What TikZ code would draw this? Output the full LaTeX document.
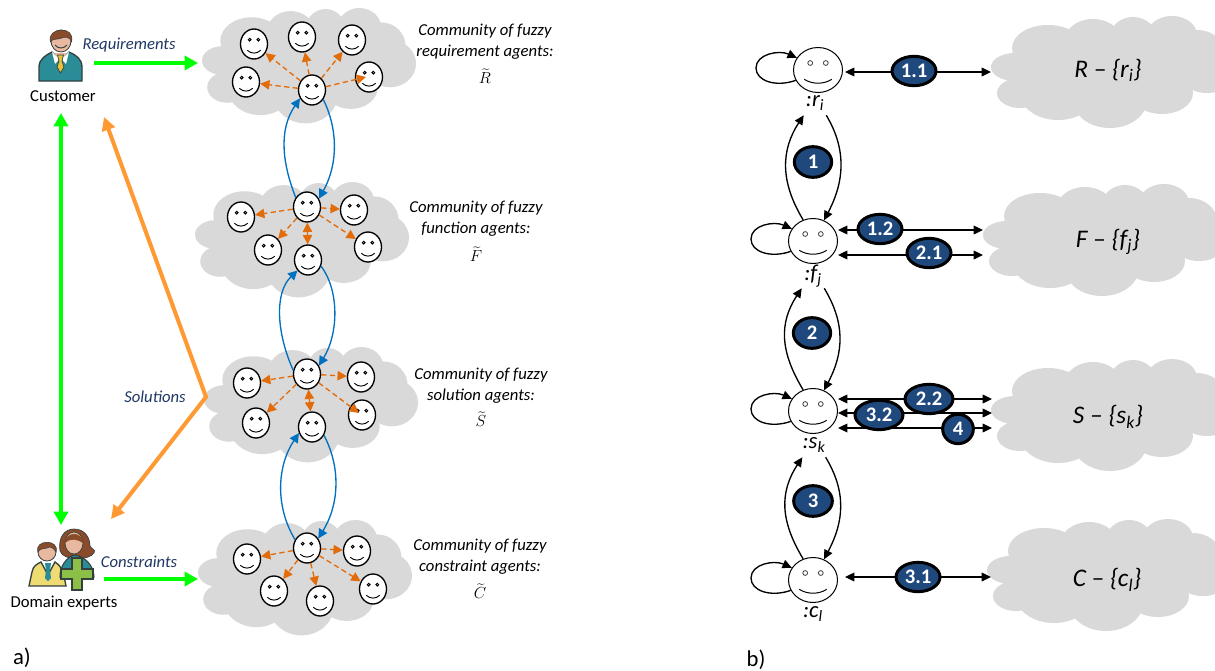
\documentclass[tikz,border=0pt]{standalone}
\usepackage{fontspec}
\setmainfont{Carlito}
\usetikzlibrary{arrows.meta,shapes.geometric,calc}
\definecolor{cloudgrey}{HTML}{D9D9D9}
\definecolor{pillblue}{HTML}{1F497D}
\definecolor{labelblue}{HTML}{1F3864}
\definecolor{dashorange}{HTML}{E36C0A}
\definecolor{flowblue}{HTML}{0070C0}
\definecolor{flowgreen}{HTML}{00FF00}
\definecolor{floworange}{HTML}{FF9933}
\definecolor{teal1}{HTML}{2A8C96}
\definecolor{hair}{HTML}{8A4B2A}
\definecolor{skin}{HTML}{E8B9A0}
\definecolor{suit}{HTML}{EEDB72}
\definecolor{tie}{HTML}{E3C33A}
\definecolor{plusgreen}{HTML}{8CBF45}
\definecolor{iconline}{HTML}{33403F}
\newcommand\puffcloud[5]{%
  \begin{scope}[shift={(#2,#3)},xscale=#4,yscale=#5]
  \fill[cloudgrey] (24,51) ellipse[x radius=24,y radius=14]
    (29,77) ellipse[x radius=23,y radius=15]
    (57,32) ellipse[x radius=36,y radius=23]
    (102,24) ellipse[x radius=28,y radius=21]
    (142,21) ellipse[x radius=23,y radius=20]
    (181,19) ellipse[x radius=25,y radius=19]
    (206,37) ellipse[x radius=28,y radius=23]
    (216,54) ellipse[x radius=30,y radius=23]
    (171,77) ellipse[x radius=31,y radius=21]
    (119,84) ellipse[x radius=37,y radius=28]
    (67,77) ellipse[x radius=38,y radius=27]
    (119,51) ellipse[x radius=87,y radius=33];
  \end{scope}}
\newcommand\smallfacepic{\begin{scope}[shift={(path picture bounding box.center)},x=.75pt,y=-.75pt]
  \draw[line width=.7pt] (-4.3,-4.3) circle[radius=1.4] (4.3,-4.3) circle[radius=1.4];
  \draw[line width=.7pt] (-6.7,6.3) .. controls (-3,10) and (3,10) .. (6.7,6.3);
  \end{scope}}
\newcommand\bigfacepic{\begin{scope}[shift={(path picture bounding box.center)},x=.75pt,y=-.75pt]
  \draw[line width=.6pt,draw=black!75] (-7.8,-7) circle[radius=2.4] (7.8,-7) circle[radius=2.4];
  \draw[line width=.75pt] (-13.7,9.3) .. controls (-6,14.5) and (6,14.5) .. (13.7,9.3);
  \end{scope}}
\tikzset{
  smallface/.style={ellipse,draw=black,line width=1pt,fill=white,minimum width=20.25pt,minimum height=22.5pt,inner sep=0pt,path picture={\smallfacepic}},
  bigface/.style={ellipse,draw=black,line width=.75pt,fill=white,minimum width=36.75pt,minimum height=33.75pt,inner sep=0pt,path picture={\bigfacepic}},
  dasharrow/.style={draw=dashorange,line width=1pt,dash pattern=on 4pt off 2.5pt,-{Triangle[length=7pt,width=7pt]}},
  dashboth/.style={draw=dashorange,line width=1pt,dash pattern=on 4pt off 2.5pt,{Triangle[length=7pt,width=7pt]}-{Triangle[length=7pt,width=7pt]}},
  bluearrow/.style={draw=flowblue,line width=1pt,-{Triangle[length=7pt,width=7pt]}},
  blackarrow/.style={draw=black,line width=1pt,-{Triangle[length=7pt,width=6.5pt]}},
  blackboth/.style={draw=black,line width=1pt,{Triangle[length=7pt,width=6.5pt]}-{Triangle[length=7pt,width=6.5pt]}},
  greenarrow/.style={draw=flowgreen,line width=3.5pt,-{Triangle[length=10pt,width=10.5pt]}},
  greenboth/.style={draw=flowgreen,line width=3.5pt,{Triangle[length=10pt,width=10.5pt]}-{Triangle[length=10pt,width=10.5pt]}},
  orangearrow/.style={draw=floworange,line width=3pt,-{Triangle[length=10pt,width=10pt]}},
  pill/.style={ellipse,draw=black,line width=2.25pt,fill=pillblue,text=white,font=\fontsize{15.5}{15.5}\selectfont\bfseries,inner sep=0pt},
  flowlabel/.style={text=labelblue,font=\fontsize{12.5}{14}\selectfont\itshape,inner sep=0pt},
  community/.style={align=center,font=\fontsize{12.5}{16}\selectfont\itshape,inner sep=0pt},
  tildelabel/.style={font=\fontsize{13}{14}\selectfont,inner sep=0pt},
  actor/.style={font=\fontsize{12.5}{14}\selectfont,inner sep=0pt},
  instance/.style={font=\fontsize{17}{17}\selectfont\itshape,inner sep=0pt,minimum width=16.5pt,minimum height=18pt},
  setlabel/.style={font=\fontsize{19}{19}\selectfont\itshape,inner sep=0pt},
  partlabel/.style={font=\fontsize{17}{17}\selectfont,inner sep=0pt},
}
\begin{document}
\begin{tikzpicture}[x=.75pt,y=-.75pt]
\clip (0,0) rectangle (1215,671);
\fill[white] (0,0) rectangle (1215,671);
% clouds, panel a
\puffcloud{a}{202}{8}{.87}{1.03}
\puffcloud{b}{195}{182}{.87}{1.03}
\puffcloud{c}{204}{347}{.87}{1.03}
\puffcloud{d}{198}{520}{.87}{1.03}
% clouds, panel b
\puffcloud{e}{991}{16}{1}{1}
\puffcloud{f}{983}{184}{1}{1}
\puffcloud{g}{991}{359}{1}{1}
\puffcloud{h}{987}{519}{1}{1}
% customer icon
\fill[skin] (50,53) rectangle (71,62);
\filldraw[fill=teal1,draw=iconline,line width=1pt] (39,81) -- (39,67) .. controls (39,59) and (46,55) .. (52,52) -- (60.5,62) -- (69,52) .. controls (76,55) and (82,59) .. (82,67) -- (82,81) -- cycle;
\fill[white] (52,52) -- (60.5,60) -- (69,52) -- (66,64) -- (60.5,58) -- (55,64) -- cycle;
\filldraw[fill=tie,draw=iconline,line width=.5pt] (57.5,55) -- (63.5,55) -- (62,61) -- (64,67) -- (60.5,73) -- (57,67) -- (59,61) -- cycle;
\filldraw[fill=skin,draw=iconline,line width=.6pt] (61,41) ellipse[x radius=10,y radius=11];
\filldraw[fill=hair,draw=iconline,line width=.4pt] (50.5,42) .. controls (46,27) and (76,25) .. (71.5,42) .. controls (70,37) and (66,36) .. (60,38.5) .. controls (56,40) and (53,38) .. (50.5,42) -- cycle;
\draw[iconline,line width=.7pt] (55,45) .. controls (58,49) and (64,49) .. (67,45);
% domain experts icon
\filldraw[fill=suit,draw=iconline,line width=1pt] (29,586) -- (32,572) .. controls (33,566) and (37,564) .. (41,562) -- (48,575) -- (55,562) .. controls (60,565) and (63,570) .. (64,576) -- (66,586) -- cycle;
\fill[teal1] (45,563) -- (51,563) -- (50,570) -- (51,578) -- (48,581) -- (45,578) -- (46,570) -- cycle;
\filldraw[fill=skin,draw=iconline,line width=.6pt] (47,552) circle[radius=9];
\filldraw[fill=hair,draw=iconline,line width=.4pt] (38,552) .. controls (34,539) and (60,539) .. (56,552) .. controls (53,547) and (50,546) .. (47,548) .. controls (44,549) and (40,548) .. (38,552) -- cycle;
\filldraw[fill=hair,draw=iconline,line width=.5pt] (60,551) .. controls (58,538) and (64,529) .. (74,529) .. controls (85,529) and (90,538) .. (90,546) .. controls (92,550) and (96,549) .. (94,553) .. controls (90,560) and (64,562) .. (60,551) -- cycle;
\filldraw[fill=teal1,draw=iconline,line width=.8pt] (60,577) .. controls (60,566) and (66,558) .. (74,555) .. controls (85,556) and (94,566) .. (94,577) -- cycle;
\filldraw[fill=skin,draw=iconline,line width=.5pt] (74,543) ellipse[x radius=9,y radius=11];
\path[fill=hair] (65,543) .. controls (65,531) and (83,531) .. (83,543) .. controls (78,540) and (72,537) .. (65,543) -- cycle;
\filldraw[fill=plusgreen,draw=iconline,line width=.8pt] (72,558) -- (82,558) -- (82,569) -- (93,569) -- (93,579) -- (82,579) -- (82,590) -- (72,590) -- (72,579) -- (61,579) -- (61,569) -- (72,569) -- cycle;
% actors and flow labels
\node[actor] (customer) at (63,96) {Customer};
\node[actor] (experts) at (64,603) {Domain experts};
\node[flowlabel] (lreq) at (129,45) {Requirements};
\node[flowlabel] (lsol) at (155,397) {Solutions};
\node[flowlabel] (lcon) at (139,562) {Constraints};
\node[partlabel] (parta) at (22,658) {a)};
\node[partlabel] (partb) at (756,660) {b)};
% free ends of the panel a flows
\coordinate (custout) at (94,63);
\coordinate (cloudain) at (198,63);
\coordinate (expout) at (104,579);
\coordinate (clouddin) at (198,579);
\coordinate (custdown) at (61,113);
\coordinate (expup) at (61,525);
\coordinate (bend) at (206,397);
\coordinate (custtip) at (104,117);
\coordinate (exptip) at (111,519);
\draw[greenarrow] (custout) -- (cloudain);
\draw[greenarrow] (expout) -- (clouddin);
\draw[greenboth] (custdown) -- (expup);
\draw[orangearrow,line cap=round] (bend) -- (custtip);
\draw[orangearrow,line cap=round] (bend) -- (exptip);
% agents, requirement community
\node[smallface] (r0) at (312,90) {};
\node[smallface] (r1) at (254,44) {};
\node[smallface] (r2) at (302,37) {};
\node[smallface] (r3) at (352,40) {};
\node[smallface] (r4) at (246,82) {};
\node[smallface] (r5) at (369,77) {};
% agents, function community
\node[smallface] (f0) at (307,207) {};
\node[smallface] (f1) at (241,217) {};
\node[smallface] (f2) at (268,250) {};
\node[smallface] (f3) at (308,260) {};
\node[smallface] (f4) at (354,210) {};
\node[smallface] (f5) at (368,247) {};
% agents, solution community
\node[smallface] (s0) at (307,374) {};
\node[smallface] (s1) at (247,383) {};
\node[smallface] (s2) at (361,377) {};
\node[smallface] (s3) at (256,423) {};
\node[smallface] (s4) at (312,427) {};
\node[smallface] (s5) at (362,415) {};
% agents, constraint community
\node[smallface] (c0) at (307,548) {};
\node[smallface] (c1) at (247,559) {};
\node[smallface] (c2) at (274,591) {};
\node[smallface] (c3) at (320,601) {};
\node[smallface] (c4) at (357,551) {};
\node[smallface] (c5) at (373,589) {};
% dashed
\foreach \t in {r1,r2,r3,r4} \draw[dasharrow] (r0) -- (\t);
\draw[dasharrow] (r0) -- ($(r5)+(-3,0)$);
\foreach \t in {f1,f2,f4,f5} \draw[dasharrow] (f0) -- (\t);
\draw[dashboth] (f0) -- (f3);
\foreach \t in {s1,s2,s3} \draw[dasharrow] (s0) -- (\t);
\draw[dasharrow] (s0) -- ($(s5)+(-3,-2)$);
\draw[dashboth] (s0) -- (s4);
\foreach \t in {c1,c2,c3,c4} \draw[dasharrow] (c0) -- (\t);
\draw[dasharrow] (c0) -- (c5);
% blue loops
\draw[bluearrow] (f0.140) .. controls +(-13,-33) and +(-22,32) .. (r0.215);
\draw[bluearrow] (r0.-40) .. controls +(14,28) and +(20,-36) .. (f0.35);
\draw[bluearrow] (s0.165) .. controls +(-17,-38) and +(-23,22) .. (f3.225);
\draw[bluearrow] (f3.-25) .. controls +(18,24) and +(20,-33) .. (s0.35);
\draw[bluearrow] (c0.145) .. controls +(-20,-33) and +(-22,33) .. (s4.205);
\draw[bluearrow] (s4.-35) .. controls +(16,30) and +(22,-36) .. (c0.40);
% community labels
\node[community] (tr) at (485,42) {Community of fuzzy\\requirement agents:};
\node[tildelabel] (tR) at (485,76) {$\widetilde{R}$};
\node[community] (tf) at (476,219) {Community of fuzzy\\function agents:};
\node[tildelabel] (tF) at (476,254) {$\widetilde{F}$};
\node[community] (ts) at (481,386) {Community of fuzzy\\solution agents:};
\node[tildelabel] (tS) at (481,419) {$\widetilde{S}$};
\node[community] (tc) at (480,557) {Community of fuzzy\\constraint agents:};
\node[tildelabel] (tC) at (480,591) {$\widetilde{C}$};
% panel b agents
\node[bigface] (ri) at (818,70) {};
\node[bigface] (fj) at (813,241) {};
\node[bigface] (sk) at (813,411) {};
\node[bigface] (cl) at (813,580) {};
\node[instance] (lr) at (815,103) {:r\textsubscript{i}};
\node[instance] (lf) at (813,276) {:f\textsubscript{j}};
\node[instance] (ls) at (814,445) {:s\textsubscript{k}};
\node[instance] (lc) at (813,614) {:c\textsubscript{l}};
% self loops
\foreach \a in {ri,fj,sk,cl}
  \draw[blackarrow] (\a.205) .. controls +(-20,7) and +(0,13) .. ($(\a)+(-62,-2)$) .. controls +(0,-14) and +(-18,-8) .. (\a.150);
% vertical loops
\draw[blackarrow] (fj.115) .. controls +(-23,-38) and +(-23,35) .. (lr.south west);
\draw[blackarrow] (lr.south east) .. controls +(21,35) and +(20,-38) .. (fj.62);
\draw[blackarrow] (sk.115) .. controls +(-23,-38) and +(-23,35) .. (lf.south west);
\draw[blackarrow] (lf.south east) .. controls +(21,35) and +(20,-38) .. (sk.62);
\draw[blackarrow] (cl.115) .. controls +(-23,-38) and +(-23,35) .. (ls.south west);
\draw[blackarrow] (ls.south east) .. controls +(21,35) and +(20,-38) .. (cl.62);
% free ends of the horizontal messages
\coordinate (a11) at (845,72);   \coordinate (b11) at (991,72);
\coordinate (a12) at (838,230);  \coordinate (b12) at (983,230);
\coordinate (a21) at (838,255);  \coordinate (b21) at (983,255);
\coordinate (a22) at (838,399);  \coordinate (b22) at (992,399);
\coordinate (a32) at (838,413);  \coordinate (b32) at (992,413);
\coordinate (a4)  at (838,428);  \coordinate (b4)  at (992,428);
\coordinate (a31) at (845,577);  \coordinate (b31) at (991,577);
\foreach \m in {11,12,21,22,32,4,31} \draw[blackboth] (a\m) -- (b\m);
% numbered messages
\node[pill,minimum width=33pt,minimum height=22pt] (p11) at (914,71) {1.1};
\node[pill,minimum width=33pt,minimum height=22pt] (p12) at (880,229) {1.2};
\node[pill,minimum width=33pt,minimum height=22pt] (p21) at (929,253) {2.1};
\node[pill,minimum width=36pt,minimum height=22pt] (p22) at (929,399) {2.2};
\node[pill,minimum width=36pt,minimum height=22pt] (p32) at (879,415) {3.2};
\node[pill,minimum width=23pt,minimum height=22pt] (p4) at (958,429) {4};
\node[pill,minimum width=33pt,minimum height=22pt] (p31) at (918,577) {3.1};
\node[pill,minimum width=28pt,minimum height=23pt] (p1) at (813,162) {1};
\node[pill,minimum width=28pt,minimum height=23pt] (p2) at (812,333) {2};
\node[pill,minimum width=29pt,minimum height=23pt] (p3) at (813,501) {3};
% set labels
\node[setlabel] (setr) at (1108,70) {R – \{r\textsubscript{i}\}};
\node[setlabel] (setf) at (1108,242) {F – \{f\textsubscript{j}\}};
\node[setlabel] (sets) at (1108,417) {S – \{s\textsubscript{k}\}};
\node[setlabel] (setc) at (1107,580) {C – \{c\textsubscript{l}\}};
\end{tikzpicture}
\end{document}
